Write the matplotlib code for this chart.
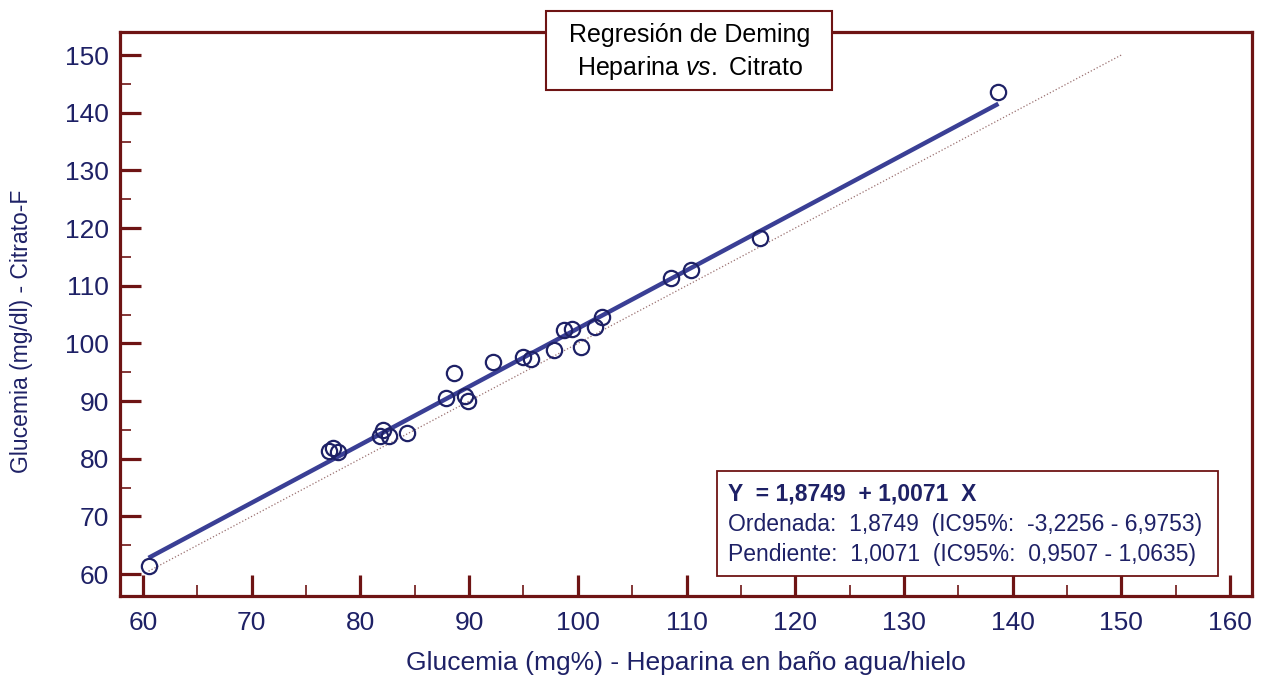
import matplotlib
matplotlib.use("Agg")
import matplotlib.pyplot as plt
from matplotlib.patches import Rectangle
from matplotlib.ticker import MultipleLocator

plt.rcParams['font.family'] = ['Liberation Sans', 'DejaVu Sans']
plt.rcParams['mathtext.fontset'] = 'custom'
plt.rcParams['mathtext.rm'] = 'Liberation Sans'
plt.rcParams['mathtext.it'] = 'Liberation Sans:italic'

# glucemia heparina (x) vs citrato-F (y)
x_hep = [60.5, 77.1, 77.5, 77.9, 81.8, 82.1, 82.6, 84.3, 87.9, 88.6, 89.6, 89.9, 92.2,
         95.0, 95.7, 97.8, 98.7, 99.5, 100.3, 101.6, 102.2, 108.6, 110.4, 116.8, 138.7]
y_cit = [61.4, 81.3, 81.8, 81.1, 83.9, 84.9, 84.0, 84.4, 90.5, 94.8, 90.8, 90.0, 96.8,
         97.6, 97.3, 98.8, 102.4, 102.5, 99.4, 102.9, 104.6, 111.4, 112.7, 118.3, 143.6]

intercept = 1.8749
slope = 1.0071
ident_range = [60.5, 150]

MAROON = '#6e1414'
NAVY = '#1e2166'
BLUE = '#3a3f95'

fig = plt.figure(figsize=(12.67, 6.75), dpi=100)
ax = fig.add_axes([0.0947, 0.117, 0.8935, 0.8356])

# identity line
ax.plot(ident_range, ident_range, ':', color='#9a7070', lw=0.9, zorder=1)
# deming regression line
xr = [min(x_hep), max(x_hep)]
ax.plot(xr, [intercept + slope * v for v in xr], color=BLUE, lw=3.2,
        solid_capstyle='butt', zorder=2)
ax.plot(x_hep, y_cit, 'o', ms=11, mfc='none', mec=NAVY, mew=1.6, zorder=3)

ax.set_xlim(57.87, 162.04)
ax.set_ylim(56.19, 154.0)
ax.xaxis.set_major_locator(MultipleLocator(10))
ax.xaxis.set_minor_locator(MultipleLocator(5))
ax.yaxis.set_major_locator(MultipleLocator(10))
ax.yaxis.set_minor_locator(MultipleLocator(5))

for s in ax.spines.values():
    s.set_color(MAROON)
    s.set_linewidth(2.3)
ax.tick_params(which='major', direction='in', length=15, width=2.3, color=MAROON,
               labelsize=19, labelcolor=NAVY, pad=8)
ax.tick_params(axis='x', which='major', pad=11)
ax.tick_params(which='minor', direction='in', length=8, width=1.2, color=MAROON)

ax.set_xlabel('Glucemia (mg%) - Heparina en baño agua/hielo', fontsize=19,
              color=NAVY, labelpad=11)
ax.set_ylabel('Glucemia (mg/dl) - Citrato-F', fontsize=16.5, color=NAVY)
ax.yaxis.set_label_coords(-0.077, 0.47)

# title box
ax.add_patch(Rectangle((0.376, 0.897), 0.253, 0.14, transform=ax.transAxes,
                       facecolor='white', edgecolor=MAROON, lw=1.5, clip_on=False, zorder=10))
ax.text(0.5035, 0.995, 'Regresión de Deming', transform=ax.transAxes, ha='center',
        va='center', fontsize=18, color='black', zorder=11)
ax.text(0.5035, 0.936, r'Heparina $\mathit{vs.}$ Citrato', transform=ax.transAxes,
        ha='center', va='center', fontsize=18, color='black', zorder=11)

# stats box
ax.add_patch(Rectangle((0.527, 0.036), 0.443, 0.185, transform=ax.transAxes,
                       facecolor='white', edgecolor=MAROON, lw=1.3, zorder=10))
ax.text(0.537, 0.180, 'Y  = 1,8749  + 1,0071  X', transform=ax.transAxes, ha='left',
        va='center', fontsize=16.5, fontweight='bold', color=NAVY, zorder=11)
ax.text(0.537, 0.127, 'Ordenada:  1,8749  (IC95%:  -3,2256 - 6,9753)', transform=ax.transAxes,
        ha='left', va='center', fontsize=16.5, color=NAVY, zorder=11)
ax.text(0.537, 0.074, 'Pendiente:  1,0071  (IC95%:  0,9507 - 1,0635)', transform=ax.transAxes,
        ha='left', va='center', fontsize=16.5, color=NAVY, zorder=11)

fig.savefig('out.png', dpi=100)
plt.close(fig)
